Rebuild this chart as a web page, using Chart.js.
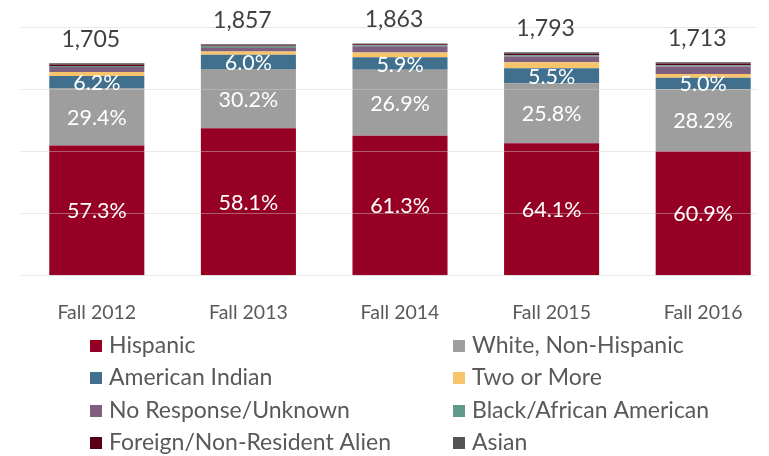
<!DOCTYPE html>
<html>
<head>
<meta charset="utf-8">
<script src="https://cdn.jsdelivr.net/npm/chart.js@4.4.1/dist/chart.umd.min.js"></script>
<style>
  html, body { margin: 0; padding: 0; background: #fff; overflow: hidden; }
  #wrap { position: relative; width: 769px; height: 456px; overflow: hidden; }
  #chart { position: absolute; left: 0; top: 0; width: 790px; height: 456px; }
</style>
</head>
<body>
<div id="wrap"><canvas id="chart" width="790" height="456"></canvas></div>
<script>
// headcount by term, stacked bottom -> top in legend order
const terms = ["Fall 2012", "Fall 2013", "Fall 2014", "Fall 2015", "Fall 2016"];
const hispanic = [1044, 1182, 1122, 1062, 998];
const white = [458, 477, 530, 482, 498];
const amIndian = [100, 113, 100, 121, 93];
const twoOrMore = [32, 27, 40, 48, 30];
const noResponse = [40, 28, 50, 45, 59];
const black = [9, 12, 7, 10, 11];
const foreign = [12, 9, 8, 13, 13];
const asian = [10, 9, 6, 12, 11];
const totals = [1705, 1857, 1863, 1793, 1713];

// percentage labels printed on the three largest groups
const hispanicPct = ["57.3%", "58.1%", "61.3%", "64.1%", "60.9%"];
const whitePct = ["29.4%", "30.2%", "26.9%", "25.8%", "28.2%"];
const amIndianPct = ["6.2%", "6.0%", "5.9%", "5.5%", "5.0%"];

const FONT = "Lato, 'Open Sans', sans-serif";

const series = [
  { label: "Hispanic", data: hispanic, color: "#960025" },
  { label: "White, Non-Hispanic", data: white, color: "#9E9E9E" },
  { label: "American Indian", data: amIndian, color: "#41708F" },
  { label: "Two or More", data: twoOrMore, color: "#F7C46C" },
  { label: "No Response/Unknown", data: noResponse, color: "#7E5F80" },
  { label: "Black/African American", data: black, color: "#62998A" },
  { label: "Foreign/Non-Resident Alien", data: foreign, color: "#5A0016" },
  { label: "Asian", data: asian, color: "#555555" },
];
const pctLabels = [hispanicPct, whitePct, amIndianPct];

const overlay = {
  id: "overlay",
  afterDatasetsDraw(chart) {
    const ctx = chart.ctx;
    const y = chart.scales.y;
    const area = chart.chartArea;
    ctx.save();
    // gridlines sit over the bars in the original
    ctx.strokeStyle = "rgba(205,205,205,0.45)";
    ctx.lineWidth = 1;
    [0, 500, 1000, 1500, 2000].forEach(v => {
      const py = Math.round(y.getPixelForValue(v)) + 0.5;
      ctx.beginPath();
      ctx.moveTo(area.left, py);
      ctx.lineTo(757, py);
      ctx.stroke();
    });

    ctx.textAlign = "center";
    ctx.textBaseline = "middle";
    ctx.fillStyle = "#ffffff";
    ctx.font = "21.5px " + FONT;
    pctLabels.forEach((labels, di) => {
      chart.getDatasetMeta(di).data.forEach((bar, i) => {
        ctx.fillText(labels[i], bar.x, (bar.y + bar.base) / 2 + 1);
      });
    });

    ctx.fillStyle = "#404040";
    ctx.font = "23px " + FONT;
    chart.getDatasetMeta(series.length - 1).data.forEach((bar, i) => {
      ctx.fillText(totals[i].toLocaleString("en-US"), bar.x - 6, bar.y - 24);
    });
    ctx.restore();
  },
  afterDraw(chart) {
    const ctx = chart.ctx;
    const colX = [90, 453];
    const rowY = [346, 378, 411, 443];
    ctx.save();
    ctx.font = "23px " + FONT;
    ctx.textBaseline = "middle";
    ctx.textAlign = "left";
    series.forEach((s, i) => {
      const x = colX[i % 2];
      const yy = rowY[Math.floor(i / 2)];
      ctx.fillStyle = s.color;
      ctx.fillRect(x, yy - 6, 12, 12);
      ctx.fillStyle = "#595959";
      ctx.fillText(s.label, x + 19, yy);
    });
    ctx.restore();
  }
};

new Chart(document.getElementById("chart"), {
  type: "bar",
  data: {
    labels: terms,
    datasets: series.map(s => ({
      label: s.label,
      data: s.data,
      backgroundColor: s.color,
      borderWidth: 0,
      categoryPercentage: 1,
      barPercentage: 0.627,
    })),
  },
  options: {
    responsive: false,
    animation: false,
    layout: { padding: { top: 26.5, left: 21, right: 11, bottom: 0 } },
    plugins: { legend: { display: false }, tooltip: { enabled: false } },
    scales: {
      x: {
        stacked: true,
        grid: { display: false },
        border: { display: false },
        ticks: { color: "#595959", font: { family: FONT, size: 19.5 }, padding: 18 },
        afterFit(axis) { axis.height = 180.7; },
      },
      y: {
        stacked: true,
        display: false,
        min: 0,
        max: 2000,
      },
    },
  },
  plugins: [overlay],
});
</script>
</body>
</html>
